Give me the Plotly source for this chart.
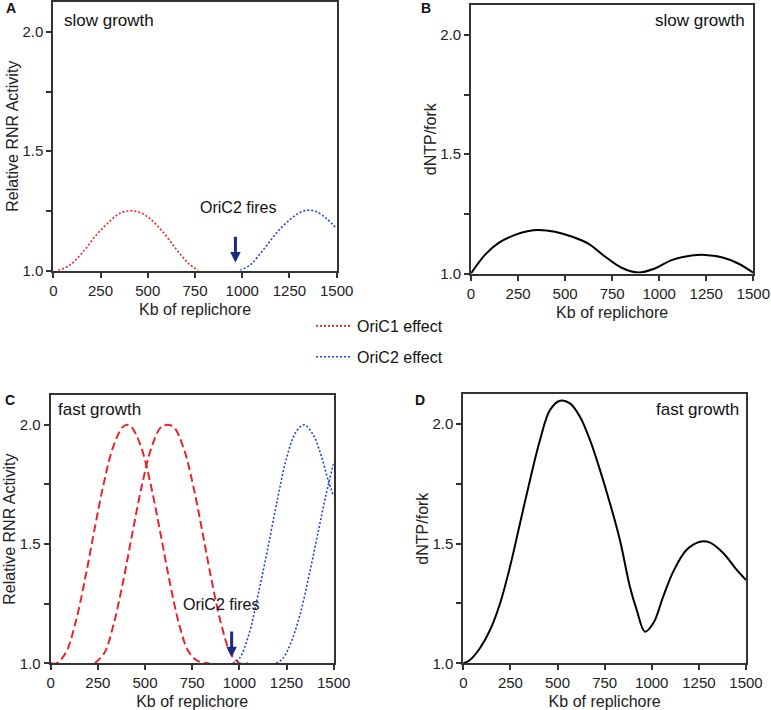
import plotly.graph_objects as go

# ---------------- data ----------------
# Panel A: slow growth, relative RNR activity
a_oric1_x = [26, 88, 159, 229, 300, 353, 406, 459, 512, 582, 653, 715, 768]
a_oric1_y = [1.0, 1.023, 1.08, 1.15, 1.207, 1.24, 1.25, 1.243, 1.217, 1.16, 1.087, 1.03, 1.0]
a_oric2_x = [988, 1041, 1112, 1182, 1253, 1306, 1350, 1394, 1447, 1500]
a_oric2_y = [1.0, 1.023, 1.087, 1.158, 1.214, 1.243, 1.253, 1.246, 1.217, 1.175]

# Panel B: slow growth, dNTP/fork
b_x = [0, 74, 145, 234, 300, 358, 446, 535, 623, 712, 800, 889, 977, 1066, 1172, 1243, 1332, 1420, 1500]
b_y = [1.0, 1.078, 1.127, 1.162, 1.177, 1.182, 1.175, 1.155, 1.125, 1.071, 1.024, 1.004, 1.021,
       1.056, 1.075, 1.078, 1.068, 1.042, 1.003]

# Panel C: fast growth, relative RNR activity
c_oric1a_x = [0, 30, 80, 130, 180, 230, 280, 330, 380, 405, 430, 480, 530, 580, 630, 680, 730, 780, 840]
c_oric1a_y = [1.0, 1.0, 1.044, 1.166, 1.345, 1.552, 1.75, 1.905, 1.989, 2.0, 1.989, 1.905, 1.75,
              1.552, 1.345, 1.166, 1.05, 1.01, 1.0]
c_oric1b_x = [233, 283, 333, 383, 433, 483, 533, 583, 618, 653, 703, 753, 803, 853, 903, 953, 1003, 1046]
c_oric1b_y = [1.0, 1.041, 1.162, 1.34, 1.546, 1.745, 1.902, 1.989, 2.0, 1.99, 1.906, 1.753, 1.555,
              1.347, 1.166, 1.043, 1.0, 1.0]
c_oric2a_x = [966, 1000, 1050, 1100, 1150, 1200, 1250, 1300, 1343, 1390, 1430, 1470, 1500]
c_oric2a_y = [1.0, 1.02, 1.12, 1.29, 1.48, 1.68, 1.86, 1.97, 2.0, 1.96, 1.88, 1.77, 1.70]
c_oric2b_x = [1196, 1230, 1270, 1320, 1370, 1420, 1460, 1500]
c_oric2b_y = [1.0, 1.02, 1.08, 1.2, 1.37, 1.56, 1.71, 1.84]

# Panel D: fast growth, dNTP/fork
d_x = [0, 35, 88, 142, 195, 248, 301, 354, 407, 460, 513, 566, 619, 672, 725, 778, 831, 884,
       920, 964, 1008, 1061, 1114, 1185, 1256, 1309, 1380, 1451, 1500]
d_y = [1.0, 1.014, 1.063, 1.139, 1.25, 1.404, 1.585, 1.766, 1.933, 2.058, 2.097, 2.086, 2.03,
       1.933, 1.808, 1.669, 1.515, 1.32, 1.223, 1.132, 1.167, 1.279, 1.383, 1.474, 1.508, 1.504,
       1.46, 1.39, 1.348]

x_ticks = [0, 250, 500, 750, 1000, 1250, 1500]
y_ticks = [1.0, 1.25, 1.5, 1.75, 2.0]
y_ticktext = ["1.0", "", "1.5", "", "2.0"]
oric2_fire_kb = 962

# ---------------- styling ----------------
FONT = "Arial, Liberation Sans, sans-serif"
RED = "#e8242a"
BLUE = "#2144d6"
NAVY = "#1a2a80"
AX = "#333333"

W, H = 771, 710


def px_dom_x(a, b):
    return [a / W, b / W]


def px_dom_y(top, bottom):
    return [1 - bottom / H, 1 - top / H]


fig = go.Figure()

# A
fig.add_trace(go.Scatter(x=a_oric1_x, y=a_oric1_y, mode="lines", name="OriC1 effect",
                         line=dict(color=RED, width=1.6, dash="2px,2px", shape="spline"),
                         xaxis="x", yaxis="y", showlegend=True, legendgroup="g1"))
fig.add_trace(go.Scatter(x=a_oric2_x, y=a_oric2_y, mode="lines", name="OriC2 effect",
                         line=dict(color=BLUE, width=1.6, dash="2px,2px", shape="spline"),
                         xaxis="x", yaxis="y", showlegend=True, legendgroup="g2"))
# B
fig.add_trace(go.Scatter(x=b_x, y=b_y, mode="lines", line=dict(color="black", width=2, shape="spline"),
                         xaxis="x2", yaxis="y2", showlegend=False))
# C
for xs, ys in [(c_oric1a_x, c_oric1a_y), (c_oric1b_x, c_oric1b_y)]:
    fig.add_trace(go.Scatter(x=xs, y=ys, mode="lines",
                             line=dict(color=RED, width=2, dash="8px,4px", shape="spline"),
                             xaxis="x3", yaxis="y3", showlegend=False))
for xs, ys in [(c_oric2a_x, c_oric2a_y), (c_oric2b_x, c_oric2b_y)]:
    fig.add_trace(go.Scatter(x=xs, y=ys, mode="lines",
                             line=dict(color=BLUE, width=1.6, dash="2px,2px", shape="spline"),
                             xaxis="x3", yaxis="y3", showlegend=False))
# D
fig.add_trace(go.Scatter(x=d_x, y=d_y, mode="lines", line=dict(color="black", width=2, shape="spline"),
                         xaxis="x4", yaxis="y4", showlegend=False))


def xaxis(dom, anchor):
    return dict(domain=dom, anchor=anchor, range=[0, 1500], tickvals=x_ticks, automargin=False,
                showline=True, linecolor=AX, linewidth=2, mirror=True,
                ticks="outside", ticklen=5, tickwidth=1.5, tickcolor=AX,
                showgrid=False, zeroline=False,
                tickfont=dict(size=15, color="#222", family=FONT),
                title=dict(text="Kb of replichore", standoff=6,
                           font=dict(size=16, color="#222", family=FONT)))


def yaxis(dom, anchor, title):
    return dict(domain=dom, anchor=anchor, range=[1, 2.125], tickvals=y_ticks, ticktext=y_ticktext,
                automargin=False,
                showline=True, linecolor=AX, linewidth=2, mirror=True,
                ticks="outside", ticklen=5, tickwidth=1.5, tickcolor=AX,
                showgrid=False, zeroline=False,
                tickfont=dict(size=15, color="#222", family=FONT),
                title=dict(text=title, standoff=0, font=dict(size=16, color="#222", family=FONT)))


annotations = []


def txt(x, y, text, xanchor="left", size=17, bold=False, xref="paper", yref="paper"):
    annotations.append(dict(x=x, y=y, xref=xref, yref=yref, text=("<b>%s</b>" % text) if bold else text,
                            showarrow=False, xanchor=xanchor, yanchor="middle",
                            font=dict(size=size, color="#111", family=FONT)))


# panel letters
txt(4 / W, 1 - 8 / H, "A", size=14, bold=True)
txt(419 / W, 1 - 8 / H, "B", size=14, bold=True)
txt(3 / W, 1 - 400 / H, "C", size=14, bold=True)
txt(413 / W, 1 - 400 / H, "D", size=14, bold=True)
# growth labels
txt(62 / W, 1 - 21 / H, "slow growth")
txt(747 / W, 1 - 21 / H, "slow growth", xanchor="right")
txt(56 / W, 1 - 409 / H, "fast growth")
txt(741 / W, 1 - 409 / H, "fast growth", xanchor="right")
# OriC2 fires
annotations.append(dict(x=oric2_fire_kb + 18, y=1.265, xref="x", yref="y", text="OriC2 fires", showarrow=False,
                        font=dict(size=16, color="#111", family=FONT)))
annotations.append(dict(x=oric2_fire_kb - 60, y=1.248, xref="x3", yref="y3", text="OriC2 fires", showarrow=False,
                        font=dict(size=16, color="#111", family=FONT)))
annotations.append(dict(x=oric2_fire_kb + 2, y=1.033, ax=oric2_fire_kb + 2, ay=1.148, xref="x", yref="y",
                        axref="x", ayref="y", text="", showarrow=True, arrowhead=2, arrowsize=0.7,
                        arrowwidth=3, arrowcolor=NAVY))
annotations.append(dict(x=oric2_fire_kb - 3, y=1.025, ax=oric2_fire_kb - 3, ay=1.14, xref="x3", yref="y3",
                        axref="x3", ayref="y3", text="", showarrow=True, arrowhead=2, arrowsize=0.7,
                        arrowwidth=3, arrowcolor=NAVY))

fig.update_layout(
    width=W, height=H,
    margin=dict(l=0, r=0, t=0, b=0, autoexpand=False),
    paper_bgcolor="white", plot_bgcolor="white",
    font=dict(family=FONT, size=16, color="#222"),
    xaxis=xaxis(px_dom_x(53.3, 336.7), "y"),
    yaxis=yaxis(px_dom_y(2, 270.5), "x", "Relative RNR Activity"),
    xaxis2=xaxis(px_dom_x(471, 753.3), "y2"),
    yaxis2=yaxis(px_dom_y(5, 273.5), "x2", "dNTP/fork"),
    xaxis3=xaxis(px_dom_x(50.7, 333.7), "y3"),
    yaxis3=yaxis(px_dom_y(395, 663.3), "x3", "Relative RNR Activity"),
    xaxis4=xaxis(px_dom_x(463.3, 746), "y4"),
    yaxis4=yaxis(px_dom_y(394, 663.3), "x4", "dNTP/fork"),
    annotations=annotations,
    legend=dict(x=311 / W, y=1 - 309 / H, xanchor="left", yanchor="top",
                bgcolor="rgba(0,0,0,0)", tracegroupgap=7, itemwidth=36,
                font=dict(size=16, color="#111", family=FONT)),
)

fig.write_html("out.html", config={"displayModeBar": False},
               post_script="document.body.style.margin='0';")
